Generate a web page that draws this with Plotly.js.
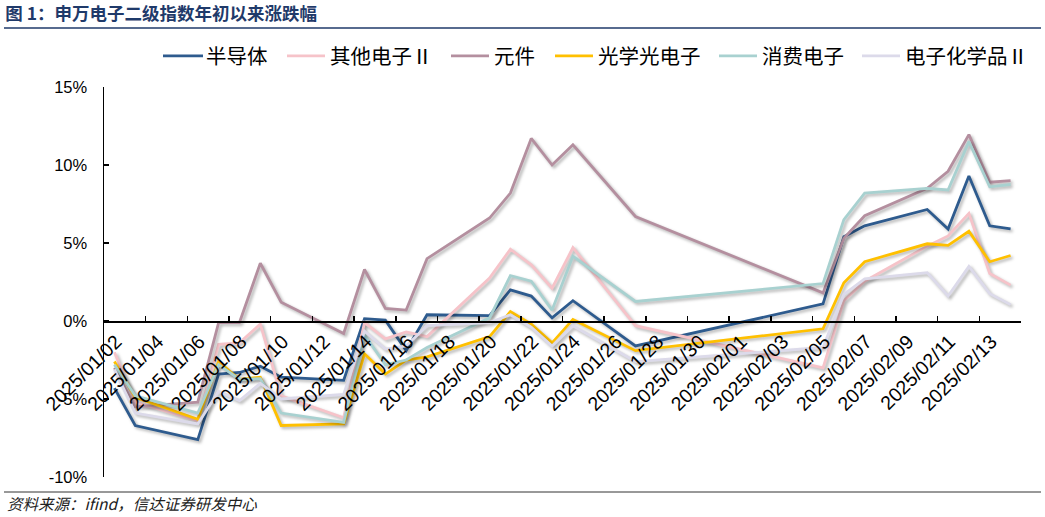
<!DOCTYPE html>
<html><head><meta charset="utf-8">
<script src="https://cdn.plot.ly/plotly-3.0.1.min.js"></script>
<style>
html,body{margin:0;padding:0;background:#fff;}
#chart{width:1045px;height:517px;}
.scatterlayer .js-line{filter: drop-shadow(2px 2px 1.5px rgba(0,0,0,0.3));}
</style></head><body><div id="chart"></div>
<script>
// Trading days
const dates = ['2025-01-02','2025-01-03','2025-01-06','2025-01-07','2025-01-08','2025-01-09','2025-01-10',
  '2025-01-13','2025-01-14','2025-01-15','2025-01-16','2025-01-17','2025-01-20','2025-01-21','2025-01-22',
  '2025-01-23','2025-01-24','2025-01-27','2025-02-05','2025-02-06','2025-02-07','2025-02-10','2025-02-11',
  '2025-02-12','2025-02-13','2025-02-14'];

const seriesNames = ['半导体','其他电子Ⅱ','元件','光学光电子','消费电子','电子化学品Ⅱ'];

// 涨跌幅 (%)
const semi     = [-4.3,-6.7,-7.6,-3.4,-3.3,-2.9,-3.6,-3.8,0.15,0.05,-1.9,0.4,0.35,2.0,1.6,0.2,1.3,-1.6,1.1,5.4,6.1,7.15,5.9,9.3,6.1,5.9];
const otherEle = [-2.0,-5.2,-6.4,-1.5,-1.4,-0.2,-4.8,-6.2,-0.1,-1.15,-0.7,-1.0,2.75,4.6,3.6,2.1,4.7,-0.3,-3.0,1.3,2.55,4.8,5.45,6.9,3.05,2.3];
const component= [-3.0,-5.5,-5.2,-0.1,-0.1,3.7,1.2,-0.8,3.3,0.8,0.7,4.0,6.6,8.2,11.7,10.0,11.3,6.7,1.8,5.3,6.75,8.5,9.6,11.95,8.9,9.0];
const optoEle  = [-2.6,-4.9,-6.3,-2.6,-3.75,-3.6,-6.7,-6.6,-2.1,-3.4,-2.5,-2.3,-1.0,0.6,-0.2,-1.4,0.1,-1.9,-0.5,2.45,3.8,4.95,4.85,5.75,3.8,4.2];
const consumer = [-2.8,-4.8,-5.9,-2.8,-3.75,-3.7,-5.9,-6.5,-0.9,-2.8,-2.5,-1.7,0.2,2.9,2.55,0.7,4.15,1.25,2.4,6.5,8.2,8.5,8.4,11.5,8.6,8.75];
const chemical = [-3.1,-5.9,-6.6,-4.5,-5.1,-4.0,-5.0,-4.7,-0.65,-1.8,-1.6,-0.3,-0.1,0.4,-0.4,-1.6,-0.3,-2.6,-1.7,1.7,2.7,3.1,1.6,3.5,1.75,1.05];

const seriesValues = [semi, otherEle, component, optoEle, consumer, chemical];
const seriesColors = ['#2E5B8E','#F6C3C9','#B48F9F','#FFC000','#A8D1D0','#DCDAEA'];

const tickLabels = ['2025/01/02','2025/01/04','2025/01/06','2025/01/08','2025/01/10','2025/01/12','2025/01/14',
  '2025/01/16','2025/01/18','2025/01/20','2025/01/22','2025/01/24','2025/01/26','2025/01/28','2025/01/30',
  '2025/02/01','2025/02/03','2025/02/05','2025/02/07','2025/02/09','2025/02/11','2025/02/13'];
const yTicks = [-10,-5,0,5,10,15];

const titleText = '图 1：申万电子二级指数年初以来涨跌幅';
const sourceText = '资料来源：ifind，信达证券研发中心';

// plot-area geometry (pixels)
const W = 1045, H = 517, L = 104, R = 24, T = 87, B = 40;
const pw = W - L - R, ph = H - T - B;
const px = v => (v - L) / pw;
const py = v => (H - B - v) / ph;

// legend entry left edges (pixels)
const legendLeft = [166, 290, 454, 558, 722, 865];

const traces = seriesNames.map((n, i) => ({
  type: 'scatter', mode: 'lines', name: n,
  legend: i === 0 ? 'legend' : 'legend' + (i + 1),
  x: dates.map(d => d + ' 12:00'),
  y: seriesValues[i],
  line: {color: seriesColors[i], width: 2.8},
  hoverinfo: 'skip'
}));

const layout = {
  width: W, height: H,
  margin: {l: L, r: R, t: T, b: B, pad: 0},
  paper_bgcolor: '#fff', plot_bgcolor: '#fff',
  font: {family: 'Liberation Sans, Arial, sans-serif', color: '#000'},
  title: {text: '<b>' + titleText + '</b>', x: 0.005, xref: 'container', xanchor: 'left',
          y: 1 - 14 / H, yref: 'container', yanchor: 'middle',
          font: {family: 'Noto Sans CJK SC, sans-serif', size: 17.5, color: '#1F3A6A'}},
  showlegend: true,
  xaxis: {
    type: 'date', range: ['2025-01-02', '2025-02-15'],
    anchor: 'free', position: 0.4,
    showline: true, linecolor: '#000', linewidth: 1.5,
    ticks: 'inside', ticklen: 5, tickwidth: 1.5, tickcolor: '#000',
    tickvals: tickLabels.map(s => s.replace(/\//g, '-')), ticktext: tickLabels,
    tickangle: -45, ticklabelshift: 12,
    tickfont: {family: 'Liberation Sans, Arial, sans-serif', size: 19.5, color: '#000'},
    minor: {tick0: '2025-01-02', dtick: 2 * 86400000, ticks: 'inside', ticklen: 5, tickwidth: 1.5, tickcolor: '#000', showgrid: false},
    showgrid: false, zeroline: false, fixedrange: true
  },
  yaxis: {
    range: [-10, 15], tickvals: yTicks, ticktext: yTicks.map(v => v + '%'),
    showline: true, linecolor: '#000', linewidth: 1.5,
    ticks: 'inside', ticklen: 5, tickwidth: 1.5, tickcolor: '#000',
    tickfont: {family: 'Liberation Sans, Arial, sans-serif', size: 16.5, color: '#000'},
    ticklabelstandoff: 12,
    showgrid: false, zeroline: false, fixedrange: true
  },
  shapes: [
    {type: 'line', xref: 'paper', yref: 'paper', x0: px(4), x1: px(1041), y0: py(28), y1: py(28), line: {color: '#1F3A6A', width: 1.5}},
    {type: 'line', xref: 'paper', yref: 'paper', x0: px(4), x1: px(1041), y0: py(492), y1: py(492), line: {color: '#333', width: 1}}
  ],
  annotations: [
    {text: '<i>' + sourceText + '</i>', xref: 'paper', yref: 'paper', x: px(5), y: py(503), xanchor: 'left', yanchor: 'middle',
     showarrow: false, font: {family: 'Noto Sans CJK SC, sans-serif', size: 15.5, color: '#222'}}
  ]
};

seriesNames.forEach((n, i) => {
  const key = i === 0 ? 'legend' : 'legend' + (i + 1);
  layout[key] = {orientation: 'h', x: px(legendLeft[i] - 8), xanchor: 'left', y: py(56), yanchor: 'middle',
    font: {family: 'Noto Sans CJK SC, sans-serif', size: 20.5, color: '#000'},
    itemwidth: 38, bgcolor: 'rgba(0,0,0,0)', borderwidth: 0};
});

Plotly.newPlot('chart', traces, layout, {displayModeBar: false, staticPlot: true}).then(() => {
  document.querySelectorAll('.legend .legendlines path').forEach(p => p.setAttribute('d', 'M5,0h40'));
});
</script></body></html>
